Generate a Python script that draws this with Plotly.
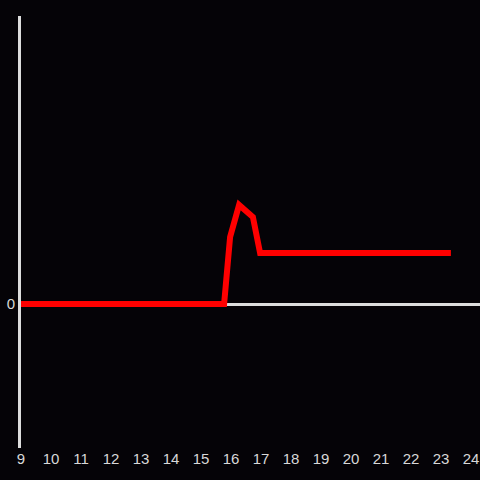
import plotly.graph_objects as go

x_vals = [9, 15.77, 15.97, 16.27, 16.73, 16.97, 23.33]
y_vals = [0, 0, 0.465, 0.6875, 0.604, 0.354, 0.354]
x_ticks = list(range(9, 25))
y_ticks = [0]

fig = go.Figure()
fig.add_trace(go.Scatter(x=x_vals, y=y_vals, mode="lines",
                         line=dict(color="#ff0000", width=6), hoverinfo="skip"))

fig.update_layout(
    width=480, height=480,
    paper_bgcolor="#050307", plot_bgcolor="#050307",
    margin=dict(l=21, r=0, t=16, b=32),
    showlegend=False,
    font=dict(family="Liberation Sans, Arial, sans-serif", size=15, color="#d8d8d8"),
    xaxis=dict(range=[9, 24.3], tickvals=x_ticks, ticktext=[str(t) for t in x_ticks],
               showgrid=False, zeroline=False, showline=False, ticks=""),
    yaxis=dict(range=[-1, 2], tickvals=y_ticks, ticktext=["0"],
               showgrid=False, zeroline=True, zerolinecolor="#dddddd", zerolinewidth=3,
               showline=True, linecolor="#dddddd", linewidth=3, ticks=""),
)
fig.write_html("out.html", config={"displayModeBar": False},
               post_script="document.body.style.margin='0';document.body.style.background='#050307';")
